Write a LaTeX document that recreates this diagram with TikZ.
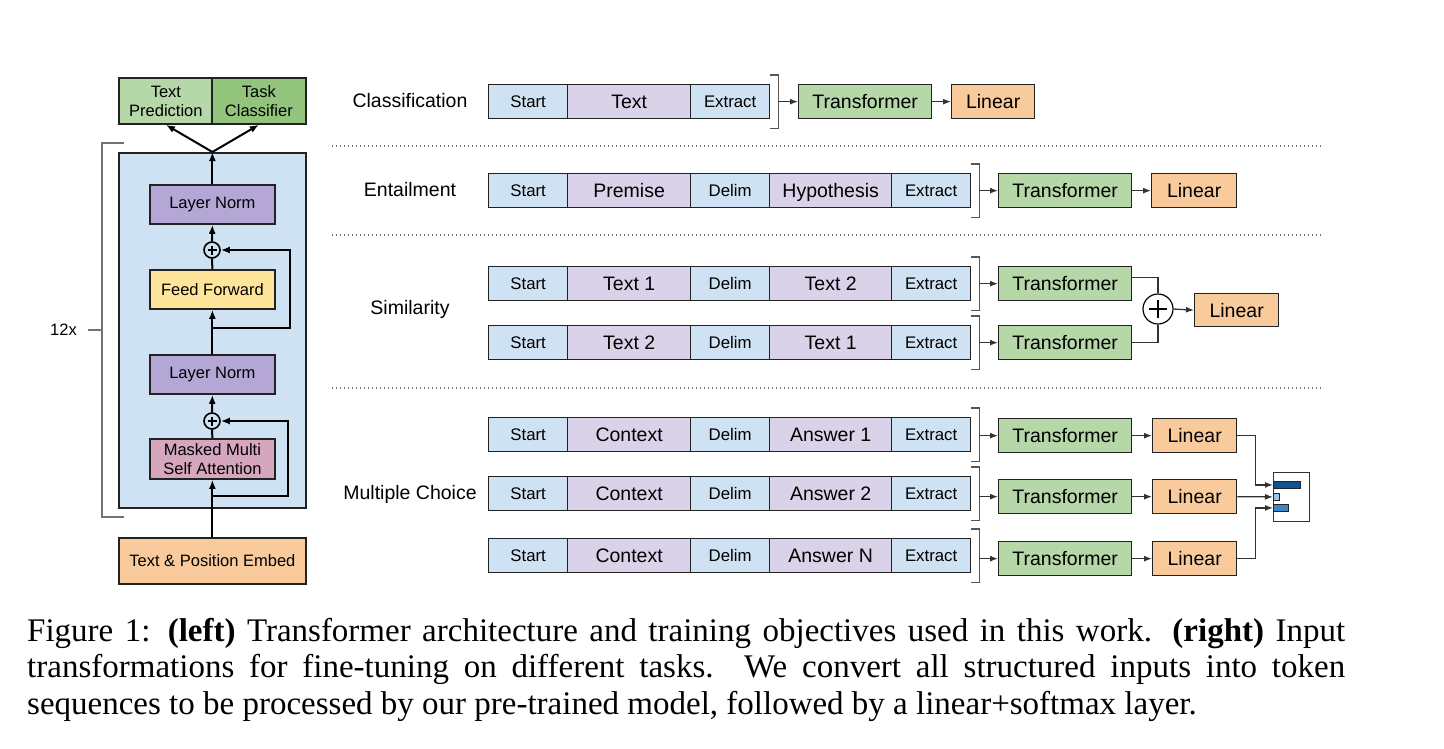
\documentclass[tikz,border=0pt]{standalone}
\usepackage{fontspec}
\setmainfont{Liberation Serif}
\newfontfamily\arialfam{Liberation Sans}
\usetikzlibrary{arrows.meta,calc}
\definecolor{tokblue}{HTML}{CFE2F3}
\definecolor{tokpurp}{HTML}{D9D2E9}
\definecolor{trgreen}{HTML}{B6D7A8}
\definecolor{lingor}{HTML}{F9CB9C}
\definecolor{lnpurp}{HTML}{B4A7D6}
\definecolor{ffyel}{HTML}{FFE599}
\definecolor{attpink}{HTML}{D5A6BD}
\definecolor{tcgreen}{HTML}{93C47D}
\definecolor{bd}{HTML}{222222}
\definecolor{lc}{HTML}{333333}
\definecolor{bkc}{HTML}{555555}
\definecolor{smA}{HTML}{0B5394}
\definecolor{smB}{HTML}{9FC5E8}
\definecolor{smC}{HTML}{3D85C6}
\newcommand{\LFont}{\arialfam\fontsize{16.5}{19}\selectfont}
\newcommand{\SFont}{\arialfam\fontsize{16.8}{19}\selectfont}
\newcommand{\BFont}{\arialfam\fontsize{19.5}{22}\selectfont}
\newcommand{\CapFont}{\fontsize{33}{36.8}\selectfont}
\tikzset{
  lbox/.style={draw=bd, line width=1.8pt, anchor=north west, inner sep=0pt, font=\LFont, align=center},
  rbox/.style={draw=bd, line width=1.3pt, anchor=north west, inner sep=0pt, minimum height=34pt, text depth=0pt},
  tokb/.style={rbox, fill=tokblue, minimum width=79pt, font=\SFont, text height=12.3pt},
  tokp/.style={rbox, fill=tokpurp, font=\BFont, text height=14.2pt},
  trans/.style={rbox, fill=trgreen, minimum width=133pt, font=\BFont, text height=14.2pt},
  lin/.style={rbox, fill=lingor, minimum width=84pt, font=\BFont, text height=14.2pt},
  task/.style={font=\BFont},
  larr/.style={line width=2pt, draw=black, -{Latex[length=9pt,width=7pt]}},
  lline/.style={line width=2pt, draw=black},
  rarr/.style={line width=1.3pt, draw=lc, -{Latex[length=8pt,width=6pt]}},
  rline/.style={line width=1.3pt, draw=lc},
  brk/.style={line width=1.5pt, draw=bkc},
  gline/.style={line width=1.5pt, draw=black!55},
  dotl/.style={line width=1.3pt, draw=black!55, dash pattern=on 1.3pt off 2.7pt},
  plussm/.style={circle, draw=black, fill=tokblue, line width=1.6pt, minimum size=16pt, inner sep=0pt,
    path picture={\draw[line width=1.6pt] ([xshift=-4.5pt]path picture bounding box.center) -- ([xshift=4.5pt]path picture bounding box.center);
                  \draw[line width=1.6pt] ([yshift=-4.5pt]path picture bounding box.center) -- ([yshift=4.5pt]path picture bounding box.center);}},
  plusbig/.style={circle, draw=black, fill=white, line width=1.2pt, minimum size=30pt, inner sep=0pt,
    path picture={\draw[line width=2.4pt] ([xshift=-9pt]path picture bounding box.center) -- ([xshift=9pt]path picture bounding box.center);
                  \draw[line width=2.4pt] ([yshift=-9pt]path picture bounding box.center) -- ([yshift=9pt]path picture bounding box.center);}},
  bar/.style={draw=bd, line width=0.8pt, anchor=north west, inner sep=0pt, minimum height=7pt},
}
% bracket right of a token node
\newcommand{\Brk}[1]{\draw[brk] ($(#1.north east)+(0,-9)$) -- ++(8,0) |- ($(#1.south east)+(0,9)$);}
% token row: prefix, top y, text A, text B
\newcommand{\TokRow}[4]{%
  \node[tokb] (#1s) at (488,#2) {Start};
  \node[tokp, minimum width=123pt] (#1a) at (567,#2) {#3};
  \node[tokb] (#1d) at (690,#2) {Delim};
  \node[tokp, minimum width=122pt] (#1b) at (769,#2) {#4};
  \node[tokb] (#1e) at (891,#2) {Extract};
  \Brk{#1e}
  \coordinate (#1k) at ($(#1e.east)+(8,0)$);
}
\begin{document}
\begin{tikzpicture}[x=1pt,y=-1pt]
\useasboundingbox (0,0) rectangle (1444,748);

% ---------------- left: architecture ----------------
\node[lbox, fill=trgreen, minimum width=94pt, minimum height=46pt] (tp) at (118,77) {Text\\Prediction};
\node[lbox, fill=tcgreen, minimum width=94pt, minimum height=46pt] (tc) at (211,77) {Task\\Classifier};
\node[lbox, fill=tokblue, minimum width=187pt, minimum height=355pt] (blk) at (118,152) {};
\node[lbox, fill=lnpurp, minimum width=125pt, minimum height=39pt] (ln1) at (149,184) {Layer Norm};
\node[plussm] (p1) at (212,250) {};
\node[lbox, fill=ffyel, minimum width=125pt, minimum height=39pt] (ff) at (149,269) {Feed Forward};
\node[lbox, fill=lnpurp, minimum width=125pt, minimum height=39pt] (ln2) at (149,354) {Layer Norm};
\node[plussm] (p2) at (212,421) {};
\node[lbox, fill=attpink, minimum width=125pt, minimum height=40pt] (att) at (149,438) {Masked Multi\\Self Attention};
\node[lbox, fill=lingor, minimum width=187pt, minimum height=46pt] (emb) at (118,537) {Text \& Position Embed};

\coordinate (r1) at (212,328);
\coordinate (r2) at (212,496);
\draw[larr] (emb.north) -- (att.south);
\draw[lline] (att.north) -- (p2.south);
\draw[larr] (p2.north) -- (ln2.south);
\draw[larr] (ln2.north) -- (ff.south);
\draw[lline] (ff.north) -- (p1.south);
\draw[larr] (p1.north) -- (ln1.south);
\draw[larr] (ln1.north) -- (blk.north);
\draw[larr] (blk.north) -- (tp.south);
\draw[larr] (blk.north) -- (tc.south);
\draw[larr] (r1) -- ++(78,0) |- (p1.east);
\draw[larr] (r2) -- ++(76,0) |- (p2.east);

% 12x bracket
\coordinate (bkt) at (124,143);
\coordinate (bkb) at (124,517);
\coordinate (bkm) at (102,330);
\draw[gline] (bkt) -- ++(-22,0) |- (bkb);
\node[font=\LFont, inner sep=0pt] (rep) at (63.5,330) {12x};
\draw[gline] (bkm) -- ++(-14,0);

% ---------------- right: tasks ----------------
\node[task] (lcls) at (410,101) {Classification};
\node[task] (lent) at (410,190) {Entailment};
\node[task] (lsim) at (410,309) {Similarity};
\node[task] (lmc) at (410,494) {Multiple Choice};

\coordinate (d1a) at (332,146); \coordinate (d1b) at (1321,146);
\coordinate (d2a) at (332,235); \coordinate (d2b) at (1321,235);
\coordinate (d3a) at (332,388); \coordinate (d3b) at (1321,388);
\draw[dotl] (d1a) -- (d1b);
\draw[dotl] (d2a) -- (d2b);
\draw[dotl] (d3a) -- (d3b);

% Classification
\node[tokb] (cs) at (488,84) {Start};
\node[tokp, minimum width=123pt] (ct) at (567,84) {Text};
\node[tokb] (ce) at (690,84) {Extract};
\Brk{ce}
\coordinate (ck) at ($(ce.east)+(8,0)$);
\node[trans] (ctr) at (798,84) {Transformer};
\node[lin, minimum width=83pt] (cl) at (951,84) {Linear};
\draw[rarr] (ck) -- (ctr.west);
\draw[rarr] (ctr.east) -- (cl.west);

% Entailment
\TokRow{e}{173}{Premise}{Hypothesis}
\node[trans] (etr) at (998,173) {Transformer};
\node[lin, minimum width=85pt] (el) at (1151,173) {Linear};
\draw[rarr] (ek |- etr.west) -- (etr.west);
\draw[rarr] (etr.east) -- (el.west);

% Similarity
\TokRow{sa}{266}{Text 1}{Text 2}
\TokRow{sb}{325}{Text 2}{Text 1}
\node[trans] (satr) at (998,266) {Transformer};
\node[trans] (sbtr) at (998,325) {Transformer};
\node[plusbig] (sp) at (1158,309) {};
\node[lin, minimum height=33pt] (sl) at (1194,293) {Linear};
\draw[rarr] (sak |- satr.west) -- (satr.west);
\draw[rarr] (sbk |- sbtr.west) -- (sbtr.west);
\draw[rline] ([yshift=6pt]satr.east) -| (sp.north);
\draw[rline] (sbtr.east) -| (sp.south);
\draw[rarr] (sp.east) -- (sl.west);

% Multiple choice
\TokRow{ma}{417}{Context}{Answer 1}
\TokRow{mb}{476}{Context}{Answer 2}
\TokRow{mc}{538}{Context}{Answer N}
\node[trans] (matr) at (998,418) {Transformer};
\node[trans] (mbtr) at (998,479) {Transformer};
\node[trans] (mctr) at (998,541) {Transformer};
\node[lin] (mal) at (1152,418) {Linear};
\node[lin] (mbl) at (1152,479) {Linear};
\node[lin] (mcl) at (1152,541) {Linear};
\draw[rarr] (mak |- matr.west) -- (matr.west);
\draw[rarr] (mbk |- mbtr.west) -- (mbtr.west);
\draw[rarr] (mck |- mctr.west) -- (mctr.west);
\draw[rarr] (matr.east) -- (mal.west);
\draw[rarr] (mbtr.east) -- (mbl.west);
\draw[rarr] (mctr.east) -- (mcl.west);

\node[draw=lc, line width=1.2pt, fill=white, anchor=north west, inner sep=0pt, minimum width=36pt, minimum height=49pt] (smx) at (1273,472) {};
\node[bar, fill=smA, minimum width=27pt] (b1) at (1273,481) {};
\node[bar, fill=smB, minimum width=6pt] (b2) at (1273,493) {};
\node[bar, fill=smC, minimum width=15pt] (b3) at (1273,504) {};
\draw[rarr] (mal.east) -- ++(18,0) |- (b1.west);
\draw[rarr] (mbl.east) -- (b2.west);
\draw[rarr] (mcl.east) -- ++(18,0) |- (b3.west);

% ---------------- caption ----------------
\node[anchor=base west, inner sep=0pt, text width=1318pt, align=justify, font=\CapFont] (cap) at (27,641)
{Figure 1: \textbf{(left)} Transformer architecture and training objectives used in this work. \textbf{(right)} Input\linebreak
transformations for fine-tuning on different tasks. We convert all structured inputs into token\linebreak
sequences to be processed by our pre-trained model, followed by a linear+softmax layer.};
\end{tikzpicture}
\end{document}
